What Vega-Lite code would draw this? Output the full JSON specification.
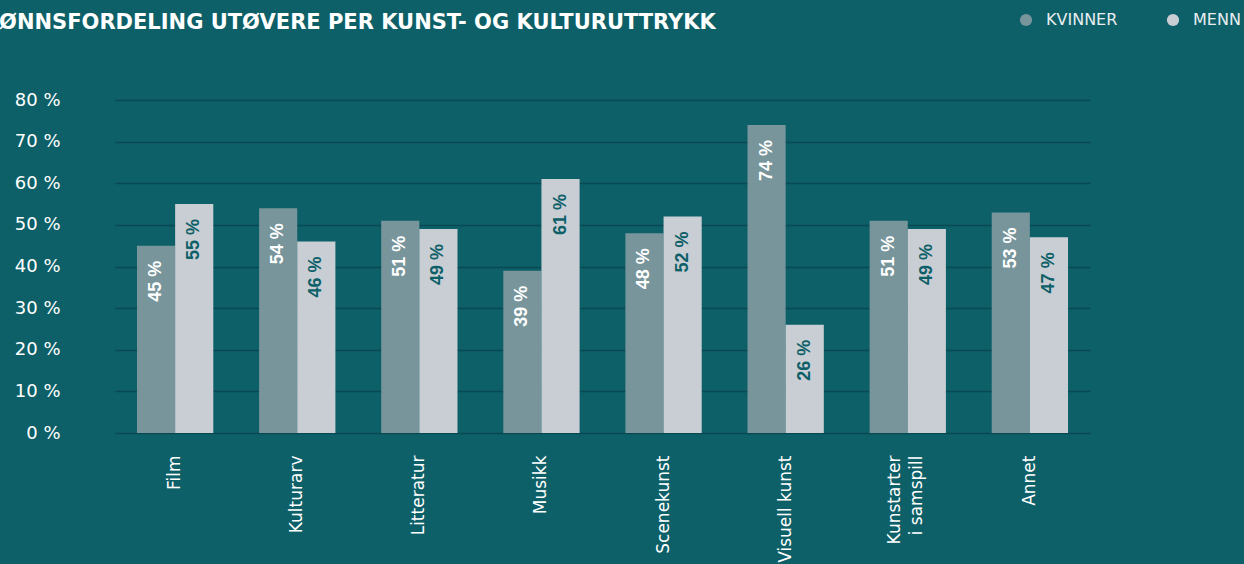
{
  "$schema": "https://vega.github.io/schema/vega-lite/v6.json",
  "autosize": {"type": "none"},
  "padding": {"left": 115, "top": 100, "right": 154, "bottom": 131},
  "width": 975,
  "height": 333,
  "background": "#0d5f68",
  "title": {
    "text": "KJØNNSFORDELING UTØVERE PER KUNST- OG KULTURUTTRYKK",
    "anchor": "start",
    "frame": "group",
    "dx": -140,
    "offset": -21,
    "font": "DejaVu Sans",
    "fontSize": 21,
    "fontWeight": "bold",
    "color": "#ffffff"
  },
  "config": {
    "view": {"stroke": null},
    "font": "DejaVu Sans"
  },
  "data": {
    "values": [
      {"kategori": "Film", "kjonn": "Kvinner", "andel": 45},
      {"kategori": "Film", "kjonn": "Menn", "andel": 55},
      {"kategori": "Kulturarv", "kjonn": "Kvinner", "andel": 54},
      {"kategori": "Kulturarv", "kjonn": "Menn", "andel": 46},
      {"kategori": "Litteratur", "kjonn": "Kvinner", "andel": 51},
      {"kategori": "Litteratur", "kjonn": "Menn", "andel": 49},
      {"kategori": "Musikk", "kjonn": "Kvinner", "andel": 39},
      {"kategori": "Musikk", "kjonn": "Menn", "andel": 61},
      {"kategori": "Scenekunst", "kjonn": "Kvinner", "andel": 48},
      {"kategori": "Scenekunst", "kjonn": "Menn", "andel": 52},
      {"kategori": "Visuell kunst", "kjonn": "Kvinner", "andel": 74},
      {"kategori": "Visuell kunst", "kjonn": "Menn", "andel": 26},
      {"kategori": "Kunstarter i samspill", "kjonn": "Kvinner", "andel": 51},
      {"kategori": "Kunstarter i samspill", "kjonn": "Menn", "andel": 49},
      {"kategori": "Annet", "kjonn": "Kvinner", "andel": 53},
      {"kategori": "Annet", "kjonn": "Menn", "andel": 47}
    ]
  },
  "encoding": {
    "x": {
      "field": "kategori",
      "type": "nominal",
      "sort": null,
      "scale": {"paddingInner": 0.375, "paddingOuter": 0.18},
      "axis": {
        "title": null,
        "domain": false,
        "ticks": false,
        "labelAngle": 270,
        "labelAlign": "right",
        "labelBaseline": "middle",
        "labelPadding": 22,
        "labelFont": "DejaVu Sans",
        "labelFontSize": 17,
        "labelColor": "#ffffff",
        "labelLineHeight": 22,
        "labelOffset": {"condition": {"test": "datum.value == 'Kunstarter i samspill'", "value": -13}, "value": 0},
        "labelExpr": "datum.value == 'Kunstarter i samspill' ? ['Kunstarter', 'i samspill'] : datum.label"
      }
    },
    "xOffset": {"field": "kjonn", "type": "nominal", "scale": {"paddingInner": 0, "paddingOuter": 0}},
    "y": {
      "field": "andel",
      "type": "quantitative",
      "scale": {"domain": [0, 80], "nice": false},
      "axis": {
        "title": null,
        "domain": false,
        "ticks": false,
        "values": [0, 10, 20, 30, 40, 50, 60, 70, 80],
        "labelExpr": "datum.value + ' %'",
        "labelPadding": 55,
        "labelFont": "DejaVu Sans",
        "labelFontSize": 18,
        "labelColor": "#ffffff",
        "labelOverlap": false,
        "gridColor": "#094a52",
        "gridWidth": 1.5,
        "gridOpacity": 1
      }
    }
  },
  "layer": [
    {
      "mark": {"type": "bar"},
      "encoding": {
        "color": {
          "field": "kjonn",
          "type": "nominal",
          "scale": {"domain": ["Kvinner", "Menn"], "range": ["#77959b", "#c8ced3"]},
          "legend": {
            "title": null,
            "orient": "none",
            "direction": "horizontal",
            "legendX": 903,
            "legendY": -88,
            "symbolType": "circle",
            "symbolSize": 150,
            "symbolStrokeWidth": 0,
            "symbolOpacity": 1,
            "labelExpr": "upper(datum.label)",
            "labelFont": "DejaVu Sans",
            "labelFontSize": 16,
            "labelColor": "#e8eef0",
            "labelOffset": 12,
            "columnPadding": 47,
            "padding": 0
          }
        }
      }
    },
    {
      "mark": {
        "type": "text",
        "angle": 270,
        "align": "right",
        "baseline": "middle",
        "dx": -15,
        "font": "Liberation Sans",
        "fontSize": 18,
        "fontWeight": "bold",
        "text": {"expr": "datum.andel + ' %'"}
      },
      "encoding": {
        "color": {
          "condition": {"test": "datum.kjonn == 'Menn'", "value": "#0d5f68"},
          "value": "#ffffff"
        }
      }
    }
  ]
}
